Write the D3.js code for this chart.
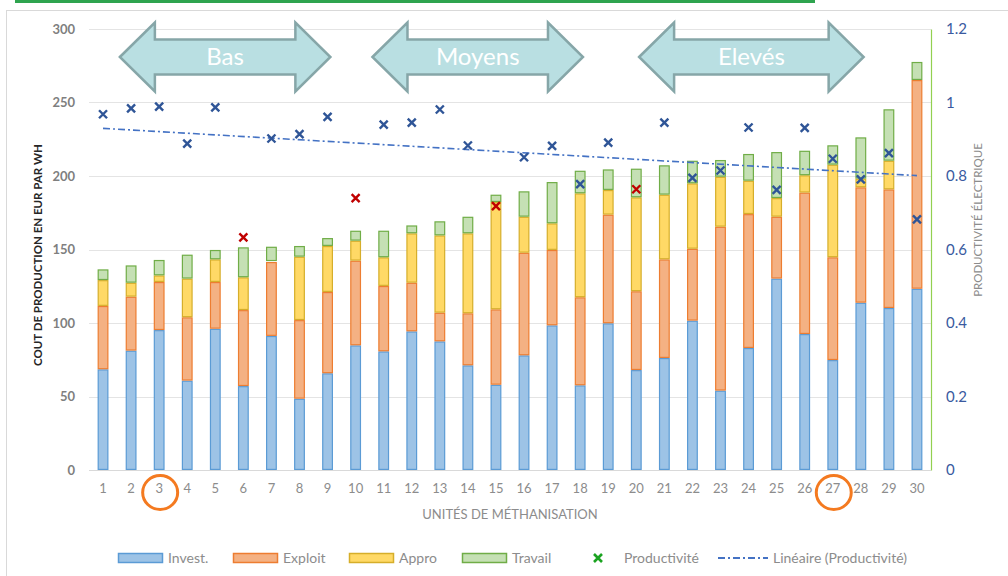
<!DOCTYPE html>
<html>
<head>
<meta charset="utf-8">
<script src="https://cdn.jsdelivr.net/npm/d3@7"></script>
<style>
  html, body { margin: 0; padding: 0; background: #fff; }
  svg { display: block; font-family: Lato, "Open Sans", sans-serif; }
</style>
</head>
<body>
<svg id="chart" width="1008" height="576"></svg>
<script>
// Production cost per unit (EUR par WH), split by component, for 30 methanisation units
const units = [1,2,3,4,5,6,7,8,9,10,11,12,13,14,15,16,17,18,19,20,21,22,23,24,25,26,27,28,29,30];
const invest  = [68.5,81.2,95.2,60.8,96.1,57.1,91.2,48.5,65.8,84.8,80.7,94.3,87.5,71.2,58,78,98.4,57.6,99.8,68,76.2,101.6,54,83,130.2,92.5,74.8,113.8,110.2,123.3];
const exploit = [43.1,36.7,32.7,43.1,31.8,51.7,50.3,53.5,55.3,57.6,44.5,33.1,19.5,35.4,51.3,69.8,51.3,59.9,73.9,53.6,67.1,48.9,111.5,91.1,42.1,96.2,69.9,78.5,80.7,142];
const appro   = [17.6,9.5,4.5,26.3,15.4,22.3,0.6,43.1,31.3,13.6,19.5,33.6,52.6,54.4,73,24.5,18.1,70.7,16.8,63.9,44,44.5,34,22.7,12.7,11.8,63,5.9,19.5,0];
const travail = [7.3,11.8,10.5,16.3,6.4,20.4,9.8,7.3,5.4,6.8,18.1,5.4,9.6,11.3,5,17.3,28.1,15.4,14,19.5,20,15.4,11.4,18.2,31.3,16.7,13.2,28.1,35,12.3];
// Electrical productivity (right axis)
const productivite = [0.968,0.984,0.989,0.888,0.987,0.633,0.902,0.914,0.961,0.740,0.940,0.945,0.981,0.883,0.718,0.851,0.882,0.778,0.891,0.764,0.945,0.795,0.815,0.932,0.762,0.931,0.847,0.791,0.862,0.682];
// Units whose productivity marker is flagged in red
const flagged = [6,10,15,20];
// Units circled below the axis
const circled = [3,27];

const seriesNames = ["Invest.","Exploit","Appro","Travail"];
const leftTicks = [0,50,100,150,200,250,300];
const rightTicks = [0,0.2,0.4,0.6,0.8,1,1.2];
const bands = [
  {label: "Bas",    from: 1.6,  to: 9.1},
  {label: "Moyens", from: 10.6, to: 18.1},
  {label: "Elevés", from: 20.1, to: 28.1}
];

const fills   = ["#9DC3E6","#F4B183","#FFD966","#C5E0B4"];
const strokes = ["#5B9BD5","#ED7D31","#D6AE2A","#70AD47"];

const svg = d3.select("#chart");
const plot = {left: 89, right: 931, top: 29, bottom: 470};

// frame and top rule
svg.append("rect").attr("x", 6.5).attr("y", 10.5).attr("width", 1010).attr("height", 600)
  .attr("fill", "none").attr("stroke", "#D9D9D9").attr("stroke-width", 1);
svg.append("rect").attr("x", 15).attr("y", 0).attr("width", 800).attr("height", 3).attr("fill", "#2EA44F");

const x = d3.scaleBand().domain(units).range([plot.left, plot.right]).paddingInner(0.62).paddingOuter(0.31);
const y = d3.scaleLinear().domain([0, 300]).range([plot.bottom, plot.top]);
const y2 = d3.scaleLinear().domain([0, 1.2]).range([plot.bottom, plot.top]);
// continuous position of a unit number (for band arrows)
const ux = u => x(1) + x.bandwidth() / 2 + (u - 1) * x.step();

// gridlines
svg.append("g").selectAll("line").data(leftTicks.slice(1)).join("line")
  .attr("x1", plot.left).attr("x2", plot.right)
  .attr("y1", d => Math.round(y(d)) + 0.5).attr("y2", d => Math.round(y(d)) + 0.5)
  .attr("stroke", "#E4E4E4").attr("stroke-width", 1);

// left axis
const gL = svg.append("g").attr("transform", `translate(${plot.left},0)`)
  .call(d3.axisLeft(y).tickValues(leftTicks).tickSize(0).tickPadding(14));
gL.select(".domain").remove();
gL.selectAll("text").attr("font-size", 13).attr("font-weight", "bold").attr("fill", "#7F7F7F")
  .attr("font-family", "Lato, sans-serif");

// right axis
const gR = svg.append("g").attr("transform", `translate(${plot.right},0)`)
  .call(d3.axisRight(y2).tickValues(rightTicks).tickFormat(d3.format("~g")).tickSize(0).tickPadding(15));
gR.select(".domain").attr("stroke", "#92D050").attr("stroke-width", 1.2);
gR.selectAll("text").attr("font-size", 15).attr("fill", "#3A5AA0").attr("font-family", "Lato, sans-serif");

// baseline
svg.append("line").attr("x1", plot.left).attr("x2", plot.right)
  .attr("y1", plot.bottom + 0.5).attr("y2", plot.bottom + 0.5).attr("stroke", "#D9D9D9");

// bottom axis
const gB = svg.append("g").attr("transform", `translate(0,${plot.bottom})`)
  .call(d3.axisBottom(x).tickSize(0).tickPadding(14));
gB.select(".domain").remove();
gB.selectAll("text").attr("font-size", 13).attr("fill", "#8C8C8C").attr("font-family", "Lato, sans-serif");

// stacked bars
const rows = units.map((u, i) => ({unit: u, "Invest.": invest[i], "Exploit": exploit[i], "Appro": appro[i], "Travail": travail[i]}));
const stack = d3.stack().keys(seriesNames)(rows);
svg.append("g").selectAll("g").data(stack).join("g")
  .attr("fill", (d, i) => fills[i]).attr("stroke", (d, i) => strokes[i]).attr("stroke-width", 1.2)
  .selectAll("rect").data(d => d.filter(s => s[1] - s[0] > 0)).join("rect")
  .attr("x", d => x(d.data.unit) + 0.5)
  .attr("width", x.bandwidth() - 1)
  .attr("y", d => y(d[1]) + 0.6)
  .attr("height", d => Math.max(0, y(d[0]) - y(d[1]) - 1.2));

// linear trend of productivity (least squares)
const n = units.length;
const mx = d3.mean(units), my = d3.mean(productivite);
const slope = d3.sum(units, (u, i) => (u - mx) * (productivite[i] - my)) / d3.sum(units, u => (u - mx) ** 2);
const icpt = my - slope * mx;
const trendEnds = [units[0], units[n - 1]];
svg.append("path")
  .attr("d", d3.line().x(u => x(u) + x.bandwidth() / 2).y(u => y2(icpt + slope * u))(trendEnds))
  .attr("fill", "none").attr("stroke", "#4472C4").attr("stroke-width", 1.6)
  .attr("stroke-dasharray", "7,3,2,3");

// productivity markers
const cross = s => `M${-s},${-s}L${s},${s}M${-s},${s}L${s},${-s}`;
svg.append("g").selectAll("path").data(units).join("path")
  .attr("transform", (u, i) => `translate(${x(u) + x.bandwidth() / 2},${y2(productivite[i])})`)
  .attr("d", cross(4))
  .attr("fill", "none")
  .attr("stroke", u => flagged.includes(u) ? "#C00000" : "#2F5597")
  .attr("stroke-width", 2.4);

// range arrows
const arrowG = svg.append("g");
bands.forEach(b => {
  const x0 = ux(b.from), x1 = ux(b.to);
  const cy = 57, headH = 34.5, shaftH = 17.5, headL = 35;
  const pts = [
    [x0, cy], [x0 + headL, cy - headH], [x0 + headL, cy - shaftH], [x1 - headL, cy - shaftH],
    [x1 - headL, cy - headH], [x1, cy], [x1 - headL, cy + headH], [x1 - headL, cy + shaftH],
    [x0 + headL, cy + shaftH], [x0 + headL, cy + headH]
  ];
  arrowG.append("polygon").attr("points", pts.map(p => p.join(",")).join(" "))
    .attr("fill", "#B9DFE2").attr("stroke", "#86A6A8").attr("stroke-width", 2.5)
    .attr("stroke-linejoin", "miter");
  arrowG.append("text").attr("x", (x0 + x1) / 2).attr("y", cy + 8)
    .attr("text-anchor", "middle").attr("font-size", 24).attr("fill", "#FFFFFF")
    .text(b.label);
});

// circled unit labels
svg.append("g").selectAll("ellipse").data(circled).join("ellipse")
  .attr("cx", u => x(u) + x.bandwidth() / 2 + 1).attr("cy", 492.5)
  .attr("rx", 17.5).attr("ry", 17)
  .attr("fill", "none").attr("stroke", "#F47A20").attr("stroke-width", 3);

// axis titles
svg.append("text").attr("transform", "translate(42,255) rotate(-90)")
  .attr("text-anchor", "middle").attr("font-size", 11.5).attr("font-weight", "bold").attr("fill", "#262626")
  .text("COUT DE PRODUCTION EN EUR PAR WH");
svg.append("text").attr("transform", "translate(982,220) rotate(-90)")
  .attr("text-anchor", "middle").attr("font-size", 11.5).attr("fill", "#8C8C8C")
  .text("PRODUCTIVITÉ ÉLECTRIQUE");
svg.append("text").attr("x", 510).attr("y", 519)
  .attr("text-anchor", "middle").attr("font-size", 13).attr("fill", "#8C8C8C")
  .text("UNITÉS DE MÉTHANISATION");

// legend
const lg = svg.append("g").attr("font-size", 14).attr("fill", "#8C8C8C");
const swX = [118, 233, 349, 462];
seriesNames.forEach((name, i) => {
  lg.append("rect").attr("x", swX[i] + 0.5).attr("y", 553.5).attr("width", 44).attr("height", 9)
    .attr("fill", fills[i]).attr("stroke", strokes[i]).attr("stroke-width", 1.5);
  lg.append("text").attr("x", swX[i] + 50).attr("y", 563).text(name);
});
lg.append("path").attr("transform", "translate(598,558)").attr("d", cross(4))
  .attr("stroke", "#1BA321").attr("stroke-width", 2.6).attr("fill", "none");
lg.append("text").attr("x", 624).attr("y", 563).text("Productivité");
lg.append("line").attr("x1", 718).attr("x2", 768).attr("y1", 558).attr("y2", 558)
  .attr("stroke", "#4472C4").attr("stroke-width", 1.8).attr("stroke-dasharray", "7,3,2,3");
lg.append("text").attr("x", 773).attr("y", 563).text("Linéaire (Productivité)");
</script>
</body>
</html>
